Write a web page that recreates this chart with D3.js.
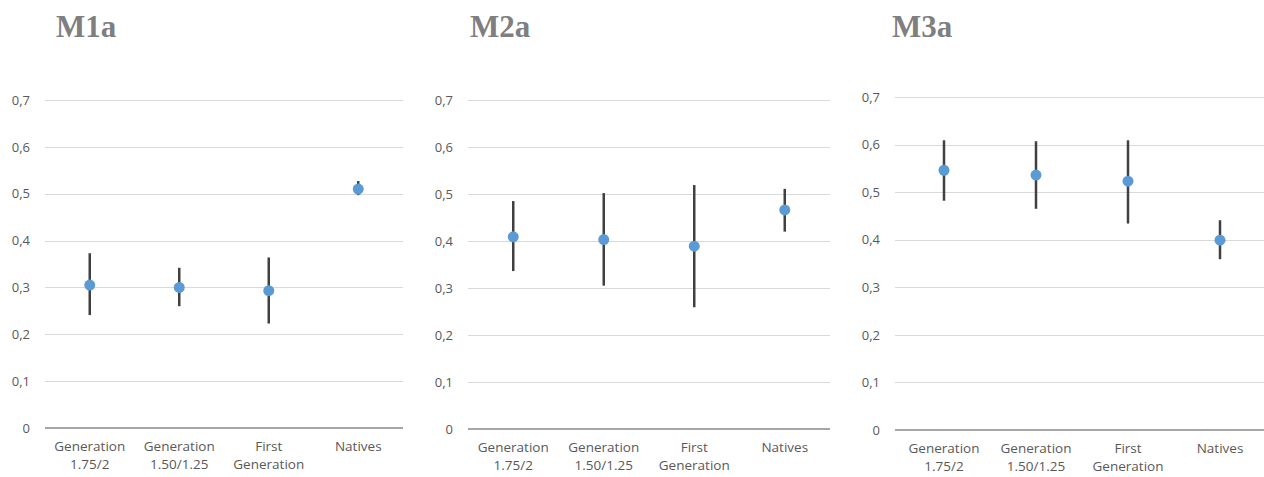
<!DOCTYPE html>
<html>
<head>
<meta charset="utf-8">
<script src="https://cdn.jsdelivr.net/npm/d3@7"></script>
<style>
  html, body { margin: 0; padding: 0; background: #fff; }
  svg { display: block; }
</style>
</head>
<body>
<svg id="chart" width="1264" height="477"></svg>
<script>
// ---- data ----
const categories = ["Generation 1.75/2", "Generation 1.50/1.25", "First Generation", "Natives"];
const categoryLines = [["Generation", "1.75/2"], ["Generation", "1.50/1.25"], ["First", "Generation"], ["Natives"]];
const panelTitles = ["M1a", "M2a", "M3a"];
const yTicks = [0, 0.1, 0.2, 0.3, 0.4, 0.5, 0.6, 0.7];

const m1aEstimate = [0.305, 0.300, 0.293, 0.510];
const m1aLower    = [0.241, 0.260, 0.223, 0.497];
const m1aUpper    = [0.373, 0.342, 0.364, 0.527];

const m2aEstimate = [0.409, 0.403, 0.389, 0.466];
const m2aLower    = [0.336, 0.305, 0.259, 0.420];
const m2aUpper    = [0.485, 0.502, 0.519, 0.511];

const m3aEstimate = [0.546, 0.536, 0.523, 0.399];
const m3aLower    = [0.482, 0.465, 0.434, 0.359];
const m3aUpper    = [0.609, 0.607, 0.609, 0.441];

const panelsData = [
  { title: panelTitles[0], est: m1aEstimate, lo: m1aLower, hi: m1aUpper },
  { title: panelTitles[1], est: m2aEstimate, lo: m2aLower, hi: m2aUpper },
  { title: panelTitles[2], est: m3aEstimate, lo: m3aLower, hi: m3aUpper }
];

// ---- layout ----
const layout = [
  { x0: 45,  x1: 403,  yTop: 100, yBot: 428, gx0: 45,  gx1: 403,  titleX: 56 },
  { x0: 468, x1: 830,  yTop: 100, yBot: 429, gx0: 468, gx1: 830,  titleX: 470 },
  { x0: 898, x1: 1266, yTop: 97,  yBot: 430, gx0: 895, gx1: 1264, titleX: 892 }
];

const svg = d3.select("#chart");
const fmt = v => v === 0 ? "0" : d3.format(".1f")(v).replace(".", ",");

panelsData.forEach((p, i) => {
  const L = layout[i];
  const g = svg.append("g");

  const x = d3.scaleBand().domain(categories).range([L.x0, L.x1]).padding(0);
  const y = d3.scaleLinear().domain([0, 0.7]).range([L.yBot, L.yTop]);

  // title
  g.append("text")
    .attr("x", L.titleX).attr("y", 37)
    .attr("font-family", "Liberation Serif, Times New Roman, serif")
    .attr("font-weight", "bold")
    .attr("font-size", 31)
    .attr("fill", "#7f7f7f")
    .text(p.title);

  // gridlines
  g.selectAll("line.grid").data(yTicks.filter(t => t > 0)).join("line")
    .attr("class", "grid")
    .attr("x1", L.gx0).attr("x2", L.gx1)
    .attr("y1", d => Math.round(y(d)) + 0.5).attr("y2", d => Math.round(y(d)) + 0.5)
    .attr("stroke", "#d9d9d9").attr("stroke-width", 1);

  // y axis
  const yAxis = d3.axisLeft(y).tickValues(yTicks).tickSize(0).tickPadding(0).tickFormat(fmt);
  const ya = g.append("g").attr("transform", `translate(${L.gx0 - 15},0)`).call(yAxis);
  ya.select(".domain").remove();
  ya.selectAll("text")
    .attr("font-family", "Open Sans, sans-serif")
    .attr("font-size", 13)
    .attr("fill", "#595959");

  // baseline axis
  g.append("line")
    .attr("x1", L.gx0).attr("x2", L.gx1)
    .attr("y1", y(0)).attr("y2", y(0))
    .attr("stroke", "#a6a6a6").attr("stroke-width", 2);

  // x labels
  const xl = g.selectAll("text.xlab").data(categories).join("text")
    .attr("class", "xlab")
    .attr("x", d => x(d) + x.bandwidth() / 2)
    .attr("y", y(0) + 23)
    .attr("text-anchor", "middle")
    .attr("font-family", "Open Sans, sans-serif")
    .attr("font-size", 13.5)
    .attr("fill", "#595959");
  xl.each(function(d, j) {
    const t = d3.select(this);
    categoryLines[j].forEach((line, k) => {
      t.append("tspan")
        .attr("x", x(d) + x.bandwidth() / 2)
        .attr("dy", k === 0 ? 0 : 18)
        .text(line);
    });
  });

  // error bars
  g.selectAll("line.err").data(categories).join("line")
    .attr("class", "err")
    .attr("x1", d => x(d) + x.bandwidth() / 2)
    .attr("x2", d => x(d) + x.bandwidth() / 2)
    .attr("y1", (d, j) => y(p.hi[j]))
    .attr("y2", (d, j) => y(p.lo[j]))
    .attr("stroke", "#404040").attr("stroke-width", 2.5);

  // points
  g.selectAll("circle.pt").data(categories).join("circle")
    .attr("class", "pt")
    .attr("cx", d => x(d) + x.bandwidth() / 2)
    .attr("cy", (d, j) => y(p.est[j]))
    .attr("r", 5.5)
    .attr("fill", "#5b9bd5");
});
</script>
</body>
</html>
